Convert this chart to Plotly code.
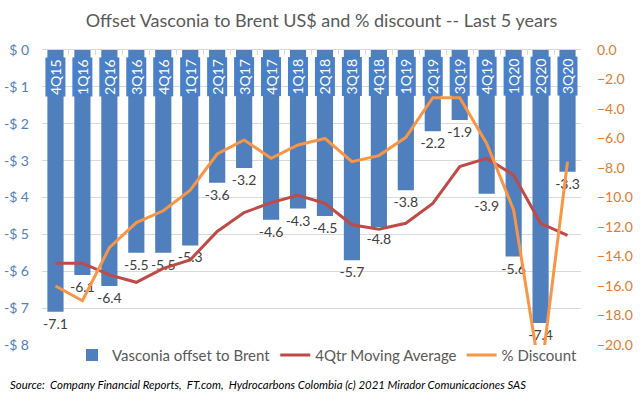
import plotly.graph_objects as go

quarters = ["4Q15", "1Q16", "2Q16", "3Q16", "4Q16", "1Q17", "2Q17", "3Q17", "4Q17", "1Q18",
            "2Q18", "3Q18", "4Q18", "1Q19", "2Q19", "3Q19", "4Q19", "1Q20", "2Q20", "3Q20"]
offset_usd = [-7.1, -6.1, -6.4, -5.5, -5.5, -5.3, -3.6, -3.2, -4.6, -4.3,
              -4.5, -5.7, -4.8, -3.8, -2.2, -1.9, -3.9, -5.6, -7.4, -3.3]
moving_avg = [-5.78, -5.78, -6.1, -6.3, -5.92, -5.69, -4.92, -4.41, -4.14, -3.94,
              -4.16, -4.74, -4.86, -4.7, -4.16, -3.16, -2.94, -3.39, -4.7, -5.03]
pct_discount = [-16.0, -17.0, -13.4, -11.7, -10.9, -9.5, -7.05, -6.1, -7.34, -6.44,
                -6.0, -7.57, -7.16, -5.92, -3.23, -3.23, -6.33, -10.85, -22.2, -7.57]
left_ticks = [0, -1, -2, -3, -4, -5, -6, -7, -8]
left_tick_labels = ["$ 0", "-$ 1", "-$ 2", "-$ 3", "-$ 4", "-$ 5", "-$ 6", "-$ 7", "-$ 8"]
right_ticks = [0, -2, -4, -6, -8, -10, -12, -14, -16, -18, -20]

FONT = "Lato"
BLUE = "#4f7fbd"
RED = "#be4b48"
ORANGE = "#f79646"

fig = go.Figure()
fig.add_trace(go.Bar(
    x=quarters, y=offset_usd, name="Vasconia offset to Brent",
    marker=dict(color=BLUE, line=dict(width=0)), width=0.6,
    text=[f"{v:.1f}" for v in offset_usd], textposition="outside",
    constraintext="none",
    textfont=dict(family=FONT, size=14, color="#404040"), cliponaxis=False,
))
fig.add_trace(go.Scatter(
    x=quarters, y=moving_avg, name="4Qtr Moving Average", mode="lines",
    line=dict(color=RED, width=3),
))
fig.add_trace(go.Scatter(
    x=quarters, y=pct_discount, name="% Discount", mode="lines", yaxis="y2",
    line=dict(color=ORANGE, width=3),
))

for q in quarters:
    fig.add_annotation(x=q, y=-0.72, xref="x", yref="y", text=q, textangle=-90,
                       showarrow=False, font=dict(family=FONT, size=14, color="white"),
                       bgcolor="#4a80c8", borderpad=1)

fig.add_annotation(
    x=-0.063, y=-0.135, xref="paper", yref="paper", xanchor="left", yanchor="middle",
    text="<i>Source:  Company Financial Reports,  FT.com,  Hydrocarbons Colombia (c) 2021 Mirador Comunicaciones SAS</i>",
    showarrow=False, font=dict(family=FONT, size=11.4, color="#000000"),
)

fig.update_layout(
    width=643, height=398,
    margin=dict(l=42, r=62, t=50, b=53, autoexpand=False),
    paper_bgcolor="white", plot_bgcolor="white",
    title=dict(text="Offset Vasconia to Brent US$ and % discount -- Last 5 years",
               x=0.5, xref="container", xanchor="center", y=0.948, yanchor="middle",
               font=dict(family=FONT, size=18, color="#595959")),
    font=dict(family=FONT),
    showlegend=True,
    legend=dict(orientation="h", x=(72 - 42) / 539, xanchor="left", y=-0.035, yanchor="middle",
                font=dict(family=FONT, size=15, color="#595959"), bgcolor="rgba(0,0,0,0)",
                itemwidth=30, traceorder="normal"),
    bargap=0.4,
    xaxis=dict(showticklabels=False, showgrid=False, zeroline=False, showline=True,
               linecolor="#d9d9d9", side="top", ticks="inside", ticklen=5,
               tickcolor="#d9d9d9", tickson="boundaries", fixedrange=True, automargin=False),
    yaxis=dict(range=[-8, 0], tickvals=left_ticks, ticktext=left_tick_labels,
               showgrid=True, gridcolor="#d9d9d9", gridwidth=1, zeroline=False,
               tickfont=dict(family=FONT, size=14, color="#4f7fbd"), ticklabelstandoff=12,
               automargin=False),
    yaxis2=dict(range=[-20, 0], overlaying="y", side="right", tickvals=right_ticks,
                tickformat=".1f", ticksuffix="%", showgrid=False, zeroline=False,
                tickfont=dict(family=FONT, size=14, color="#e07b30"), ticklabelstandoff=15,
                automargin=False),
)

fig.write_html("out.html", config={"displayModeBar": False},
               post_script="document.body.style.margin='0';")
